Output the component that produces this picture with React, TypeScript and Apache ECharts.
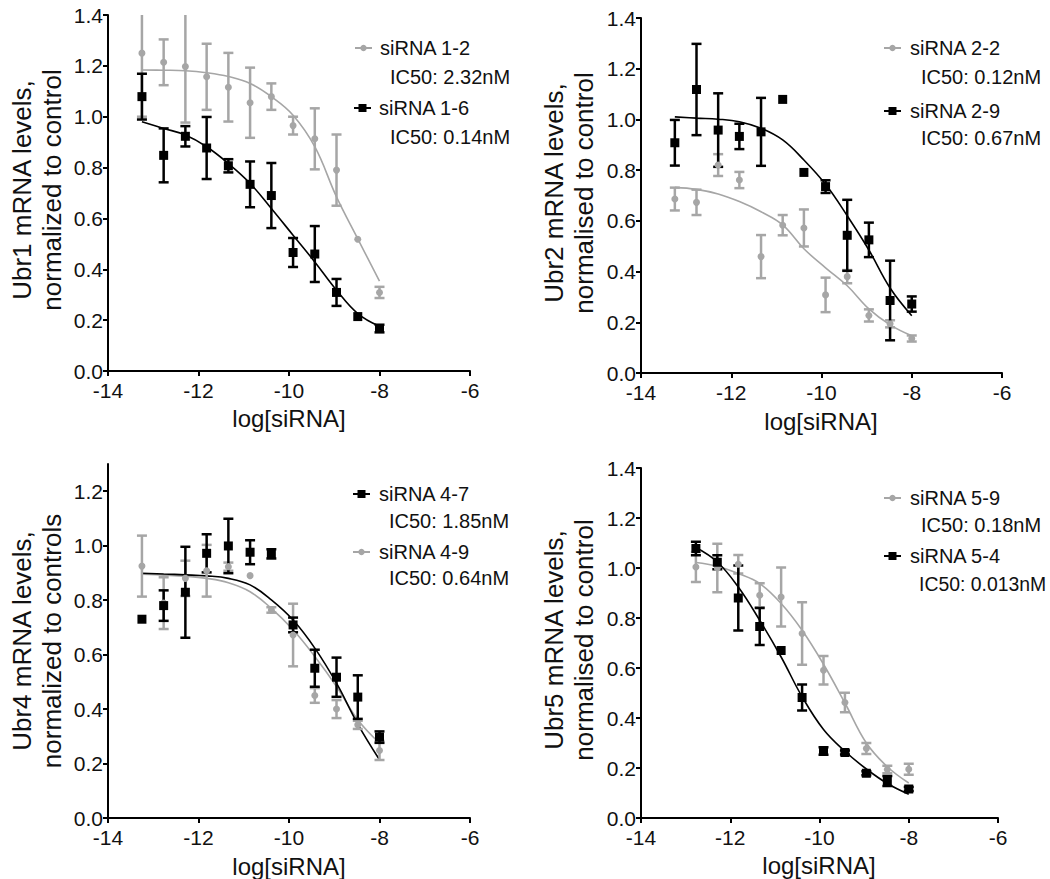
import React, { useEffect, useRef } from "react";
import * as echarts from "echarts";

const FONT = '"Liberation Sans", Arial, Helvetica, sans-serif';
const GRAY = "#a6a6a6";
const BLACK = "#000000";

// log[siRNA] positions (3-fold dilutions)
const LOG_X12 = [-13.25, -12.77, -12.29, -11.82, -11.34, -10.86, -10.39, -9.91, -9.43, -8.95, -8.48, -8.0];
const LOG_X11 = [-12.77, -12.29, -11.82, -11.34, -10.86, -10.39, -9.91, -9.43, -8.95, -8.48, -8.0];

const X_TICKS = [-14, -12, -10, -8, -6];

// Panel 1: Ubr1
const P1_GRAY_NAME = "siRNA 1-2";
const P1_GRAY_IC50 = "IC50: 2.32nM";
const P1_GRAY_MEAN = [1.25, 1.214, 1.197, 1.157, 1.116, 1.055, 1.079, 0.965, 0.913, 0.79, 0.518, 0.309];
const P1_GRAY_SD = [0.25, 0.09, 0.22, 0.13, 0.135, 0.138, 0.052, 0.035, 0.12, 0.14, 0, 0.022];
const P1_BLACK_NAME = "siRNA 1-6";
const P1_BLACK_IC50 = "IC50: 0.14nM";
const P1_BLACK_MEAN = [1.079, 0.848, 0.923, 0.877, 0.807, 0.734, 0.69, 0.466, 0.46, 0.309, 0.214, 0.167];
const P1_BLACK_SD = [0.09, 0.106, 0.04, 0.122, 0.026, 0.09, 0.128, 0.057, 0.11, 0.053, 0, 0.015];
const P1_GRAY_FIT = [1.184, 1.183, 1.181, 1.173, 1.158, 1.131, 1.079, 1.006, 0.882, 0.685, 0.52, 0.353];
const P1_BLACK_FIT = [0.98, 0.954, 0.928, 0.882, 0.816, 0.738, 0.639, 0.534, 0.429, 0.318, 0.226, 0.176];

// Panel 2: Ubr2
const P2_GRAY_NAME = "siRNA 2-2";
const P2_GRAY_IC50 = "IC50: 0.12nM";
const P2_GRAY_MEAN = [0.686, 0.673, 0.82, 0.761, 0.459, 0.583, 0.572, 0.308, 0.38, 0.227, 0.194, 0.136];
const P2_GRAY_SD = [0.045, 0.05, 0.043, 0.032, 0.085, 0.04, 0.073, 0.068, 0.026, 0.024, 0.014, 0.012];
const P2_BLACK_NAME = "siRNA 2-9";
const P2_BLACK_IC50 = "IC50: 0.67nM";
const P2_BLACK_MEAN = [0.908, 1.118, 0.958, 0.933, 0.951, 1.079, 0.791, 0.735, 0.543, 0.525, 0.286, 0.272];
const P2_BLACK_SD = [0.09, 0.18, 0.145, 0.05, 0.134, 0, 0, 0.025, 0.14, 0.068, 0.157, 0.03];
const P2_GRAY_FIT = [0.732, 0.724, 0.706, 0.676, 0.636, 0.584, 0.49, 0.415, 0.344, 0.253, 0.19, 0.147];
const P2_BLACK_FIT = [1.01, 1.005, 1.001, 0.991, 0.965, 0.919, 0.84, 0.744, 0.62, 0.485, 0.335, 0.226];

// Panel 3: Ubr4
const P3_BLACK_NAME = "siRNA 4-7";
const P3_BLACK_IC50 = "IC50: 1.85nM";
const P3_BLACK_MEAN = [0.73, 0.78, 0.829, 0.972, 0.999, 0.976, 0.97, 0.709, 0.55, 0.517, 0.444, 0.297];
const P3_BLACK_SD = [0, 0.056, 0.167, 0.07, 0.1, 0.044, 0.017, 0.027, 0.068, 0.072, 0.08, 0.021];
const P3_GRAY_NAME = "siRNA 4-9";
const P3_GRAY_IC50 = "IC50: 0.64nM";
const P3_GRAY_MEAN = [0.925, 0.789, 0.88, 0.908, 0.923, 0.89, 0.764, 0.672, 0.45, 0.4, 0.342, 0.248];
const P3_GRAY_SD = [0.112, 0.095, 0.065, 0.095, 0.015, 0, 0.01, 0.115, 0.027, 0.033, 0.015, 0.035];
const P3_BLACK_FIT = [0.899, 0.896, 0.893, 0.889, 0.88, 0.856, 0.801, 0.727, 0.624, 0.495, 0.345, 0.214];
const P3_GRAY_FIT = [0.895, 0.892, 0.888, 0.88, 0.864, 0.831, 0.77, 0.691, 0.593, 0.483, 0.361, 0.275];

// Panel 4: Ubr5
const P4_GRAY_NAME = "siRNA 5-9";
const P4_GRAY_IC50 = "IC50: 0.18nM";
const P4_GRAY_MEAN = [1.004, 1.0, 1.015, 0.891, 0.884, 0.738, 0.591, 0.462, 0.278, 0.194, 0.195];
const P4_GRAY_SD = [0.06, 0.097, 0.037, 0.048, 0.118, 0.125, 0.057, 0.039, 0.022, 0.015, 0.022];
const P4_BLACK_NAME = "siRNA 5-4";
const P4_BLACK_IC50 = "IC50: 0.013nM";
const P4_BLACK_MEAN = [1.078, 1.023, 0.88, 0.766, 0.67, 0.482, 0.268, 0.262, 0.179, 0.148, 0.116];
const P4_BLACK_SD = [0.027, 0.028, 0.13, 0.074, 0, 0.052, 0.015, 0.008, 0.008, 0.02, 0.008];
const P4_GRAY_FIT = [1.022, 1.007, 0.978, 0.938, 0.858, 0.751, 0.615, 0.46, 0.3, 0.205, 0.14];
const P4_BLACK_FIT = [1.082, 1.024, 0.924, 0.791, 0.644, 0.485, 0.354, 0.267, 0.196, 0.138, 0.095];

const Y_TITLES = [
  "Ubr1 mRNA levels,\nnormalized to control",
  "Ubr2 mRNA levels,\nnormalised to control",
  "Ubr4 mRNA levels,\nnormalized to controls",
  "Ubr5 mRNA levels,\nnormalised to control",
];
const X_TITLE = "log[siRNA]";

const GRIDS = [
  { left: 108, top: 15, width: 362, height: 356, ymax: 1.4 },
  { left: 641, top: 18, width: 361, height: 355, ymax: 1.4 },
  { left: 108, top: 464, width: 362, height: 354, ymax: 1.3 },
  { left: 641, top: 468, width: 357, height: 350, ymax: 1.4 },
];

function errSeries(idx: number, xs: number[], mean: number[], sd: number[], color: string, ymax: number) {
  return {
    type: "custom",
    xAxisIndex: idx,
    yAxisIndex: idx,
    encode: { x: 0, y: 1 },
    data: xs.map((x, i) => [x, mean[i], sd[i]]),
    renderItem: (params: any, api: any) => {
      const x = api.value(0);
      const m = api.value(1);
      const s = api.value(2);
      if (!s) return null;
      const hiV = Math.min(m + s, ymax);
      const loV = Math.max(m - s, 0);
      const hi = api.coord([x, hiV]);
      const lo = api.coord([x, loV]);
      const st = { stroke: color, lineWidth: 2.5 };
      const children: any[] = [
        { type: "line", shape: { x1: hi[0], y1: hi[1], x2: lo[0], y2: lo[1] }, style: st },
        { type: "line", shape: { x1: lo[0] - 5, y1: lo[1], x2: lo[0] + 5, y2: lo[1] }, style: st },
      ];
      if (m + s <= ymax) {
        children.push({ type: "line", shape: { x1: hi[0] - 5, y1: hi[1], x2: hi[0] + 5, y2: hi[1] }, style: st });
      }
      return { type: "group", children };
    },
    z: 3,
    silent: true,
  };
}

function pointSeries(idx: number, xs: number[], mean: number[], color: string, square: boolean) {
  return {
    type: "scatter",
    xAxisIndex: idx,
    yAxisIndex: idx,
    symbol: square ? "rect" : "circle",
    symbolSize: square ? 9 : 7,
    itemStyle: { color, opacity: 1 },
    data: xs.map((x, i) => [x, mean[i]]),
    z: 4,
    silent: true,
  };
}

function fitSeries(idx: number, xs: number[], fit: number[], color: string) {
  return {
    type: "line",
    xAxisIndex: idx,
    yAxisIndex: idx,
    smooth: 0.4,
    showSymbol: false,
    symbol: "none",
    lineStyle: { color, width: 1.6 },
    data: xs.map((x, i) => [x, fit[i]]),
    z: 2,
    silent: true,
  };
}

function panel(
  idx: number,
  xs: number[],
  first: { mean: number[]; sd: number[]; fit: number[]; color: string; square: boolean },
  second: { mean: number[]; sd: number[]; fit: number[]; color: string; square: boolean }
) {
  const ymax = GRIDS[idx].ymax;
  return [first, second].flatMap((s) => [
    fitSeries(idx, xs, s.fit, s.color),
    errSeries(idx, xs, s.mean, s.sd, s.color, ymax),
    pointSeries(idx, xs, s.mean, s.color, s.square),
  ]);
}

function legendItem(
  x0: number,
  y: number,
  color: string,
  square: boolean,
  name: string,
  ic50: string,
  textX: number,
  icX: number,
  icY: number,
  icSize = 20
) {
  const els: any[] = [
    { type: "line", shape: { x1: x0, y1: y, x2: x0 + 17, y2: y }, style: { stroke: color, lineWidth: 2 } },
    square
      ? { type: "rect", shape: { x: x0 + 4.5, y: y - 4, width: 8, height: 8 }, style: { fill: color } }
      : { type: "circle", shape: { cx: x0 + 8.5, cy: y, r: 3.2 }, style: { fill: color } },
    { type: "text", x: textX, y, style: { text: name, fontSize: 20, fontFamily: FONT, fill: "#111", align: "left", verticalAlign: "middle" } },
    { type: "text", x: icX, y: icY, style: { text: ic50, fontSize: icSize, fontFamily: FONT, fill: "#111", align: "left", verticalAlign: "middle" } },
  ];
  return els;
}

export default function App() {
  const ref = useRef<HTMLDivElement>(null);
  useEffect(() => {
    if (!ref.current) return;
    const chart = echarts.init(ref.current, undefined, { renderer: "svg" });
    const grids = GRIDS.map((g) => ({ left: g.left, top: g.top, width: g.width, height: g.height }));
    const xAxes = GRIDS.map((g, i) => ({
      gridIndex: i,
      type: "value",
      min: -14,
      max: -6,
      interval: 2,
      axisLine: { show: true, onZero: false, lineStyle: { color: BLACK, width: 2 } },
      axisTick: { show: true, length: 5, lineStyle: { color: BLACK, width: 2 }, customValues: X_TICKS },
      axisLabel: { fontSize: 21, color: "#111", fontFamily: FONT, margin: 9, customValues: X_TICKS },
      splitLine: { show: false },
    }));
    const yAxes = GRIDS.map((g, i) => {
      const ticks = g.ymax > 1.35 ? [0, 0.2, 0.4, 0.6, 0.8, 1.0, 1.2, 1.4] : [0, 0.2, 0.4, 0.6, 0.8, 1.0, 1.2];
      return {
        gridIndex: i,
        type: "value",
        min: 0,
        max: g.ymax,
        interval: 0.2,
        axisLine: { show: true, onZero: false, lineStyle: { color: BLACK, width: 2 } },
        axisTick: { show: true, length: 5, lineStyle: { color: BLACK, width: 2 }, customValues: ticks },
        axisLabel: {
          fontSize: 21,
          color: "#111",
          fontFamily: FONT,
          margin: 5,
          customValues: ticks,
          formatter: (v: number) => v.toFixed(1),
        },
        splitLine: { show: false },
      };
    });

    const series = [
      ...panel(
        0,
        LOG_X12,
        { mean: P1_GRAY_MEAN, sd: P1_GRAY_SD, fit: P1_GRAY_FIT, color: GRAY, square: false },
        { mean: P1_BLACK_MEAN, sd: P1_BLACK_SD, fit: P1_BLACK_FIT, color: BLACK, square: true }
      ),
      ...panel(
        1,
        LOG_X12,
        { mean: P2_GRAY_MEAN, sd: P2_GRAY_SD, fit: P2_GRAY_FIT, color: GRAY, square: false },
        { mean: P2_BLACK_MEAN, sd: P2_BLACK_SD, fit: P2_BLACK_FIT, color: BLACK, square: true }
      ),
      ...panel(
        2,
        LOG_X12,
        { mean: P3_GRAY_MEAN, sd: P3_GRAY_SD, fit: P3_GRAY_FIT, color: GRAY, square: false },
        { mean: P3_BLACK_MEAN, sd: P3_BLACK_SD, fit: P3_BLACK_FIT, color: BLACK, square: true }
      ),
      ...panel(
        3,
        LOG_X11,
        { mean: P4_GRAY_MEAN, sd: P4_GRAY_SD, fit: P4_GRAY_FIT, color: GRAY, square: false },
        { mean: P4_BLACK_MEAN, sd: P4_BLACK_SD, fit: P4_BLACK_FIT, color: BLACK, square: true }
      ),
    ];

    const yTitlePos = [
      [37, 190],
      [569, 193],
      [37, 641],
      [569, 640],
    ];
    const xTitlePos = [
      [289, 418],
      [821, 421],
      [289, 866],
      [819, 865],
    ];
    const graphics: any[] = [];
    yTitlePos.forEach((p, i) => {
      graphics.push({
        type: "text",
        x: p[0],
        y: p[1],
        rotation: Math.PI / 2,
        style: {
          text: Y_TITLES[i],
          fontSize: 26,
          lineHeight: 30,
          fontFamily: FONT,
          fill: "#111",
          align: "center",
          verticalAlign: "middle",
        },
      });
    });
    xTitlePos.forEach((p) => {
      graphics.push({
        type: "text",
        x: p[0],
        y: p[1],
        style: { text: X_TITLE, fontSize: 24, fontFamily: FONT, fill: "#111", align: "center", verticalAlign: "middle" },
      });
    });
    graphics.push(
      ...legendItem(355, 48, GRAY, false, P1_GRAY_NAME, P1_GRAY_IC50, 380, 390, 77),
      ...legendItem(354, 108, BLACK, true, P1_BLACK_NAME, P1_BLACK_IC50, 379, 390, 137),
      ...legendItem(884, 48, GRAY, false, P2_GRAY_NAME, P2_GRAY_IC50, 910, 921, 77),
      ...legendItem(884, 111, BLACK, true, P2_BLACK_NAME, P2_BLACK_IC50, 910, 921, 138),
      ...legendItem(353, 494, BLACK, true, P3_BLACK_NAME, P3_BLACK_IC50, 379, 389, 521),
      ...legendItem(353, 552, GRAY, false, P3_GRAY_NAME, P3_GRAY_IC50, 379, 389, 578),
      ...legendItem(884, 498, GRAY, false, P4_GRAY_NAME, P4_GRAY_IC50, 910, 921, 525),
      ...legendItem(884, 556, BLACK, true, P4_BLACK_NAME, P4_BLACK_IC50, 910, 919, 584, 19.4)
    );

    chart.setOption({
      animation: false,
      backgroundColor: "#ffffff",
      grid: grids,
      xAxis: xAxes,
      yAxis: yAxes,
      series,
      graphic: graphics,
    });
    return () => chart.dispose();
  }, []);
  return (
    <div
      ref={ref}
      style={{ position: "fixed", left: 0, top: 0, width: 1050, height: 879, background: "#fff" }}
    />
  );
}
